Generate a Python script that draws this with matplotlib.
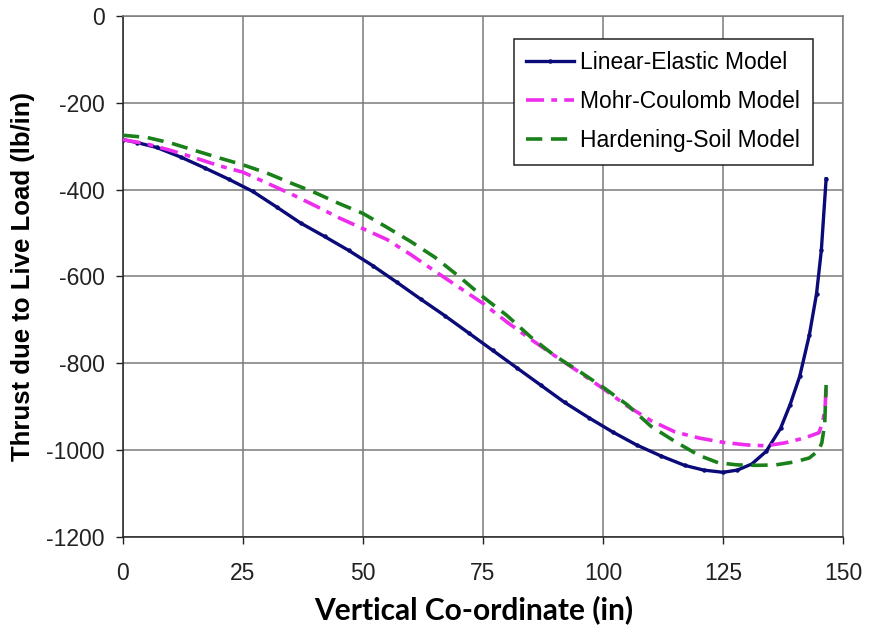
import matplotlib
matplotlib.use("Agg")
import matplotlib.pyplot as plt

# Thrust due to live load along the pipe wall for three soil models
x_linear = [0, 3, 7, 12, 17, 22, 27, 32, 37, 42, 47, 52, 57, 62, 67, 72, 77, 82,
            87, 92, 97, 102, 107, 112, 117, 121, 125, 128, 131, 134, 137, 139,
            141, 143, 144.5, 145.5, 146.5]
y_linear = [-285, -292, -303, -325, -350, -376, -404, -440, -477, -508, -540,
            -575, -613, -652, -690, -730, -770, -810, -850, -890, -925, -958,
            -988, -1013, -1035, -1046, -1051, -1046, -1032, -1003, -950, -895,
            -830, -735, -640, -540, -375]

x_mohr = [0, 5, 10, 15, 20, 25, 30, 35, 40, 45, 50, 55, 60, 65, 70, 75, 80, 85,
          90, 95, 100, 105, 110, 115, 120, 125, 130, 134, 138, 142, 145, 145.8,
          146.3, 146.5]
y_mohr = [-285, -295, -310, -327, -345, -360, -385, -410, -437, -465, -490,
          -515, -550, -588, -625, -662, -705, -745, -783, -820, -858, -898,
          -932, -958, -972, -982, -988, -990, -983, -972, -960, -935, -900, -850]

x_hard = [0, 5, 10, 15, 20, 25, 30, 35, 40, 45, 50, 55, 60, 65, 70, 75, 80, 85,
          90, 95, 100, 105, 110, 115, 120, 124, 128, 132, 136, 140, 143, 145,
          145.6, 146.2, 146.5]
y_hard = [-275, -280, -293, -310, -327, -343, -362, -385, -407, -432, -455,
          -487, -520, -556, -600, -647, -690, -740, -783, -818, -855, -895,
          -945, -980, -1012, -1029, -1034, -1035, -1034, -1027, -1018, -1000,
          -983, -940, -850]

series_names = ["Linear-Elastic Model", "Mohr-Coulomb Model", "Hardening-Soil Model"]
x_ticks = [0, 25, 50, 75, 100, 125, 150]
y_ticks = [0, -200, -400, -600, -800, -1000, -1200]

plt.rcParams["font.family"] = ["Liberation Sans", "DejaVu Sans"]
plt.rcParams["axes.unicode_minus"] = False

fig = plt.figure(figsize=(8.69, 6.34), dpi=100)
ax = fig.add_axes([0.1415, 0.153, 0.8285, 0.822])

ax.plot(x_linear, y_linear, color="#0a0a78", lw=2.4, marker="o", ms=2.2,
        label=series_names[0], zorder=3)
ax.plot(x_mohr, y_mohr, color="#ee2cee", lw=2.6, dashes=(5, 2, 1.6, 2),
        label=series_names[1], zorder=3)
ax.plot(x_hard, y_hard, color="#1a801a", lw=2.6, dashes=(4.5, 2.4),
        label=series_names[2], zorder=3)

ax.set_xlim(0, 150)
ax.set_ylim(-1200, 0)
ax.set_xticks(x_ticks)
ax.set_yticks(y_ticks)
ax.tick_params(axis="both", direction="out", length=5, width=1, colors="#222222",
               labelsize=16.5)
ax.tick_params(axis="x", pad=13)
ax.tick_params(axis="y", pad=8)
ax.grid(True, color="#7a7a7a", lw=1.1)
ax.set_axisbelow(True)
for side in ["top", "right"]:
    ax.spines[side].set_color("#7a7a7a")
    ax.spines[side].set_linewidth(1.1)
for side in ["left", "bottom"]:
    ax.spines[side].set_color("#222222")
    ax.spines[side].set_linewidth(1.1)

ax.set_ylabel("Thrust due to Live Load (lb/in)", fontsize=18.5, fontweight="bold",
              labelpad=8)
ax.set_xlabel("Vertical Co-ordinate (in)", fontsize=21.5, fontweight="bold",
              family=["Lato", "DejaVu Sans"])
ax.xaxis.set_label_coords(0.4875, -0.112)

leg = ax.legend(loc="upper right", bbox_to_anchor=(0.958, 0.956), fontsize=16.5,
                frameon=True, fancybox=False, framealpha=1, edgecolor="#222222",
                handlelength=2.1, handletextpad=0.25, borderpad=0.55,
                labelspacing=0.7, borderaxespad=0)
leg.get_frame().set_linewidth(1.1)

fig.savefig("out.png", dpi=100)
